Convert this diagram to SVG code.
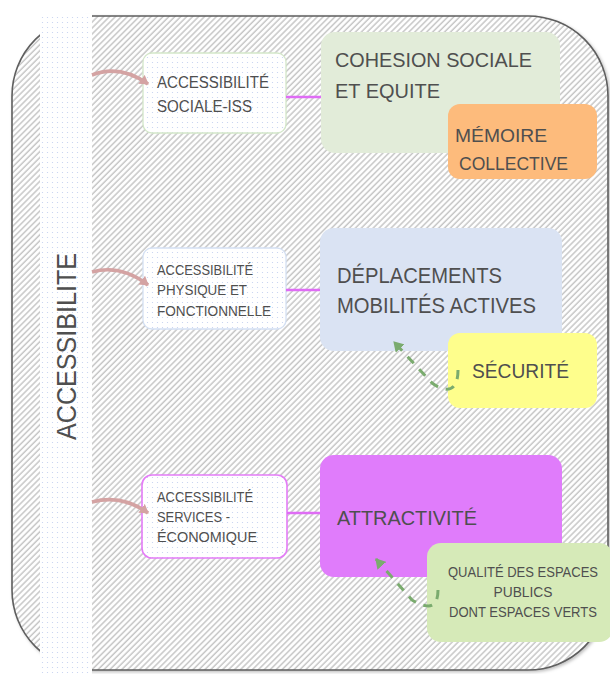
<svg xmlns="http://www.w3.org/2000/svg" width="610" height="674" viewBox="0 0 610 674">
<defs>
  <pattern id="hatch" patternUnits="userSpaceOnUse" width="4.2" height="4.2" patternTransform="rotate(45)">
    <rect width="4.2" height="4.2" fill="#ffffff"/>
    <line x1="1" y1="0" x2="1" y2="4.2" stroke="#c6c6c6" stroke-width="1.5"/>
  </pattern>
  <pattern id="dots" patternUnits="userSpaceOnUse" width="5" height="5">
    <rect width="5" height="5" fill="#ffffff"/>
    <circle cx="2.5" cy="2.5" r="0.6" fill="#c3cff0"/>
  </pattern>
  <marker id="pinkHead" markerWidth="12" markerHeight="12" refX="8" refY="6" orient="auto" markerUnits="userSpaceOnUse">
    <path d="M0,0.5 L9,6 L0,11.5 Z" fill="#d4a3a3"/>
  </marker>
  <marker id="greenHead" markerWidth="12" markerHeight="12" refX="9" refY="6" orient="auto" markerUnits="userSpaceOnUse">
    <path d="M0,0 L10,6 L0,12 Z" fill="#7aab6e"/>
  </marker>
  <filter id="shadow" x="-5%" y="-5%" width="110%" height="110%">
    <feDropShadow dx="1.5" dy="1.5" stdDeviation="1.5" flood-color="#000" flood-opacity="0.25"/>
  </filter>
</defs>
<style>
  .t { font-family: "Liberation Sans", Arial, sans-serif; fill: #4f4f4f; }
  .pink { fill: none; stroke: #d4a3a3; stroke-width: 3.6; marker-end: url(#pinkHead); }
  .mag { stroke: #df6cf5; stroke-width: 2.4; }
  .green { fill: none; stroke: #7aab6e; stroke-width: 3; stroke-dasharray: 9 8; marker-end: url(#greenHead); }
</style>

<g id="frame">
  <rect x="12" y="16" width="596" height="654" rx="80" ry="80" fill="url(#hatch)" stroke="#5e5e5e" stroke-width="1.6" filter="url(#shadow)"/>
</g>

<g id="band">
  <rect x="40" y="14" width="52" height="660" fill="url(#dots)"/>
  <text class="t" transform="translate(76,440) rotate(-90)" font-size="28" textLength="187" lengthAdjust="spacingAndGlyphs">ACCESSIBILITE</text>
</g>

<g id="acc-sociale">
  <rect x="143" y="53" width="143" height="80" rx="9" fill="url(#dots)" stroke="#d3e7c9" stroke-width="1.3"/>
  <text class="t" x="157" y="88" font-size="16" textLength="112" lengthAdjust="spacingAndGlyphs">ACCESSIBILITÉ</text>
  <text class="t" x="157" y="112" font-size="16" textLength="95" lengthAdjust="spacingAndGlyphs">SOCIALE-ISS</text>
</g>

<g id="acc-physique">
  <rect x="143" y="248" width="143" height="81" rx="9" fill="url(#dots)" stroke="#d4e0f3" stroke-width="1.3"/>
  <text class="t" x="157" y="275" font-size="14" textLength="96" lengthAdjust="spacingAndGlyphs">ACCESSIBILITÉ</text>
  <text class="t" x="157" y="295" font-size="14" textLength="90" lengthAdjust="spacingAndGlyphs">PHYSIQUE ET</text>
  <text class="t" x="157" y="316" font-size="14" textLength="114" lengthAdjust="spacingAndGlyphs">FONCTIONNELLE</text>
</g>

<g id="acc-services">
  <rect x="142" y="475" width="145" height="83" rx="10" fill="url(#dots)" stroke="#e47cf7" stroke-width="1.6"/>
  <text class="t" x="157" y="502" font-size="14" textLength="96" lengthAdjust="spacingAndGlyphs">ACCESSIBILITÉ</text>
  <text class="t" x="157" y="522" font-size="14" textLength="73" lengthAdjust="spacingAndGlyphs">SERVICES -</text>
  <text class="t" x="157" y="542" font-size="14" textLength="100" lengthAdjust="spacingAndGlyphs">ÉCONOMIQUE</text>
</g>

<g id="cohesion">
  <rect x="321" y="32" width="239" height="121" rx="14" fill="#e2ecd9"/>
  <text class="t" x="335" y="67" font-size="21" textLength="197" lengthAdjust="spacingAndGlyphs">COHESION SOCIALE</text>
  <text class="t" x="335" y="98" font-size="21" textLength="105" lengthAdjust="spacingAndGlyphs">ET EQUITE</text>
</g>

<g id="memoire">
  <rect x="448" y="104" width="149" height="75" rx="12" fill="#fdbb7c"/>
  <text class="t" x="455" y="142" font-size="19" textLength="92" lengthAdjust="spacingAndGlyphs">MÉMOIRE</text>
  <text class="t" x="459" y="170" font-size="19" textLength="109" lengthAdjust="spacingAndGlyphs">COLLECTIVE</text>
</g>

<g id="deplacements">
  <rect x="320" y="228" width="242" height="123" rx="14" fill="#dae3f3"/>
  <text class="t" x="337" y="283" font-size="22" textLength="165" lengthAdjust="spacingAndGlyphs">DÉPLACEMENTS</text>
  <text class="t" x="337" y="313" font-size="22" textLength="199" lengthAdjust="spacingAndGlyphs">MOBILITÉS ACTIVES</text>
</g>

<g id="securite">
  <rect x="448" y="333" width="149" height="75" rx="12" fill="#fefe8c"/>
  <text class="t" x="472" y="378" font-size="21" textLength="97" lengthAdjust="spacingAndGlyphs">SÉCURITÉ</text>
</g>

<g id="attractivite">
  <rect x="320" y="455" width="242" height="122" rx="14" fill="#e07cfb"/>
  <text class="t" x="337" y="525" font-size="21" textLength="140" lengthAdjust="spacingAndGlyphs">ATTRACTIVITÉ</text>
</g>

<g id="qualite">
  <rect x="427" y="543" width="186" height="99" rx="14" fill="#d6eab8"/>
  <text class="t" x="523" y="577" font-size="14" text-anchor="middle" textLength="150" lengthAdjust="spacingAndGlyphs">QUALITÉ DES ESPACES</text>
  <text class="t" x="523" y="597" font-size="14" text-anchor="middle" textLength="59" lengthAdjust="spacingAndGlyphs">PUBLICS</text>
  <text class="t" x="523" y="617" font-size="14" text-anchor="middle" textLength="148" lengthAdjust="spacingAndGlyphs">DONT ESPACES VERTS</text>
</g>

<g id="connectors">
  <path class="pink" d="M92,75 Q120,64 148,84"/>
  <path class="pink" d="M92,272 Q121,264 148,285"/>
  <path class="pink" d="M92,502 Q122,494 148,513"/>
  <line class="mag" x1="286" y1="97" x2="321" y2="97"/>
  <line class="mag" x1="286" y1="290" x2="320" y2="290"/>
  <line class="mag" x1="287" y1="513" x2="320" y2="513"/>
  <path class="green" d="M458,370 C458,394 444,392 432,383 L394,342"/>
  <path class="green" d="M438,590 C438,612 424,607 412,600 L376,559"/>
</g>
</svg>
